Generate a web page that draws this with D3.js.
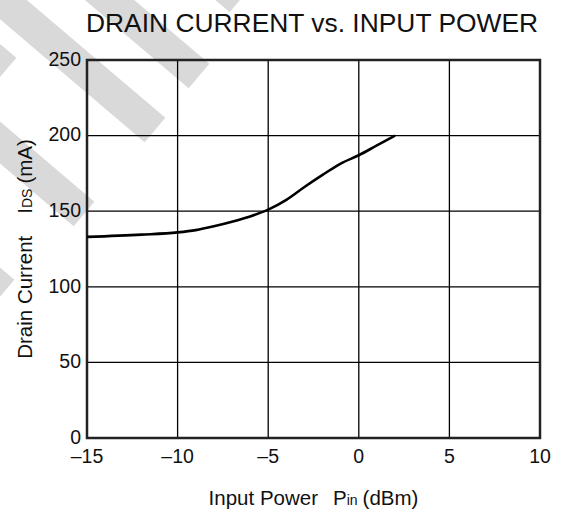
<!DOCTYPE html>
<html>
<head>
<meta charset="utf-8">
<script src="https://cdn.jsdelivr.net/npm/d3@7"></script>
<style>
  body { margin: 0; background: #fff; }
  svg text { font-family: "Liberation Sans", Arial, sans-serif; fill: #111; }
</style>
</head>
<body>
<svg id="chart" width="562" height="515"></svg>
<script>
// input power (dBm) and drain current (mA)
var pinDbm = [-15, -12, -10, -9, -8, -7, -6, -5, -4, -3, -2, -1, 0, 1, 2];
var idsMa = [133, 134.5, 136, 137.5, 140, 143, 146.5, 151, 157.5, 166, 174, 181.5, 187, 193.5, 200];

var xTicks = [-15, -10, -5, 0, 5, 10];
var yTicks = [0, 50, 100, 150, 200, 250];

var svg = d3.select("#chart"),
    margin = { top: 60, right: 22, bottom: 77, left: 87 },
    width = +svg.attr("width") - margin.left - margin.right,
    height = +svg.attr("height") - margin.top - margin.bottom;

// grey diagonal watermark bands behind the chart (end point of each band)
var bands = [[199, 76], [155, 130], [84, 214], [6, 70], [4, 292], [240, 0]];
var ang = Math.atan2(0.85, 1);
svg.append("g").selectAll("line")
  .data(bands)
  .enter().append("line")
    .attr("x1", function (d) { return d[0]; })
    .attr("y1", function (d) { return d[1]; })
    .attr("x2", function (d) { return d[0] - 500 * Math.cos(ang); })
    .attr("y2", function (d) { return d[1] - 500 * Math.sin(ang); })
    .attr("stroke", "#d9d9d9")
    .attr("stroke-width", 32);

var g = svg.append("g").attr("transform", "translate(" + margin.left + "," + margin.top + ")");

var x = d3.scaleLinear().domain([-15, 10]).range([0, width]);
var y = d3.scaleLinear().domain([0, 250]).range([height, 0]);

// grid
g.append("g").selectAll("line")
  .data(xTicks.slice(1, -1))
  .enter().append("line")
    .attr("x1", function (d) { return x(d); })
    .attr("x2", function (d) { return x(d); })
    .attr("y1", 0).attr("y2", height)
    .attr("stroke", "#000").attr("stroke-width", 1.3);

g.append("g").selectAll("line")
  .data(yTicks.slice(1, -1))
  .enter().append("line")
    .attr("y1", function (d) { return y(d); })
    .attr("y2", function (d) { return y(d); })
    .attr("x1", 0).attr("x2", width)
    .attr("stroke", "#000").attr("stroke-width", 1.3);

// frame
g.append("rect")
    .attr("width", width).attr("height", height)
    .attr("fill", "none").attr("stroke", "#222").attr("stroke-width", 2.5);

// curve
var line = d3.line()
    .x(function (d, i) { return x(d); })
    .y(function (d, i) { return y(idsMa[i]); })
    .curve(d3.curveMonotoneX);

g.append("path")
    .datum(pinDbm)
    .attr("d", line)
    .attr("fill", "none")
    .attr("stroke", "#000")
    .attr("stroke-width", 2.6);

// tick labels
var fmt = function (d) { return d < 0 ? "\u2013" + Math.abs(d) : String(d); };

g.append("g").selectAll("text")
  .data(xTicks)
  .enter().append("text")
    .attr("x", function (d) { return x(d); })
    .attr("y", height + 25)
    .attr("text-anchor", "middle")
    .style("font-size", "19.5px")
    .text(fmt);

g.append("g").selectAll("text")
  .data(yTicks)
  .enter().append("text")
    .attr("x", -6)
    .attr("y", function (d) { return y(d); })
    .attr("dy", "0.3em")
    .attr("text-anchor", "end")
    .style("font-size", "19.5px")
    .text(fmt);

// title
svg.append("text")
    .attr("x", 86).attr("y", 32)
    .style("font-size", "26.4px")
    .text("DRAIN CURRENT vs. INPUT POWER");

// x axis title
var xt = svg.append("text")
    .attr("x", margin.left + width / 2).attr("y", 505)
    .attr("text-anchor", "middle")
    .style("font-size", "20.5px");
xt.append("tspan").text("Input Power");
xt.append("tspan").attr("dx", 15).text("P");
xt.append("tspan").style("font-size", "14px").text("in");
xt.append("tspan").attr("dx", 5).text("(dBm)");

// y axis title
var yt = svg.append("text")
    .attr("transform", "translate(32," + (margin.top + height / 2) + ") rotate(-90)")
    .attr("text-anchor", "middle")
    .style("font-size", "20.5px");
yt.append("tspan").text("Drain Current");
yt.append("tspan").attr("dx", 22).text("I");
yt.append("tspan").style("font-size", "14px").text("DS");
yt.append("tspan").attr("dx", 5).text("(mA)");
</script>
</body>
</html>
